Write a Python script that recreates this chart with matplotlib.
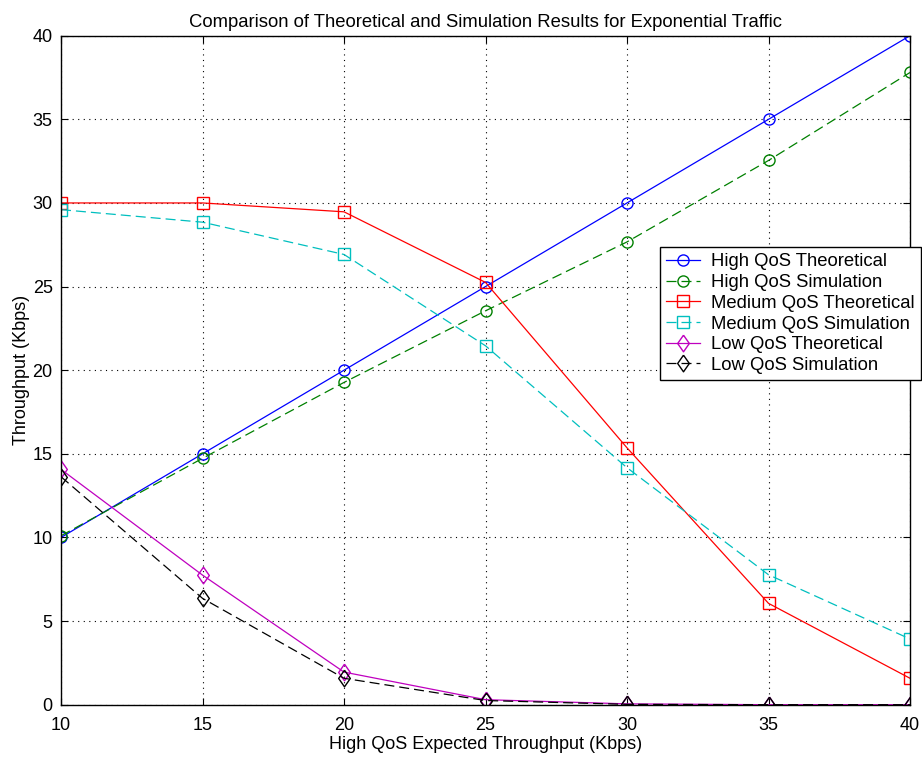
import matplotlib
matplotlib.use("Agg")
import matplotlib.pyplot as plt

plt.rcParams['font.family'] = ['Liberation Sans', 'DejaVu Sans']

# datos
x = [10, 15, 20, 25, 30, 35, 40]
high_teo = [10, 15, 20, 25, 30, 35, 40]
high_sim = [10.1, 14.73, 19.27, 23.55, 27.67, 32.54, 37.8]
med_teo = [30.0, 30.0, 29.47, 25.25, 15.36, 6.06, 1.58]
med_sim = [29.6, 28.85, 26.92, 21.46, 14.17, 7.77, 3.93]
low_teo = [14.07, 7.75, 1.95, 0.3, 0.05, 0.0, 0.0]
low_sim = [13.63, 6.36, 1.58, 0.25, 0.02, 0.0, 0.0]

etiquetas = ["High QoS Theoretical", "High QoS Simulation",
             "Medium QoS Theoretical", "Medium QoS Simulation",
             "Low QoS Theoretical", "Low QoS Simulation"]

# rombo estilo matlab (mas alto que ancho)
rombo = [(0, 1), (0.7, 0), (0, -1), (-0.7, 0), (0, 1)]

fig = plt.figure(figsize=(9.22, 7.59), dpi=100)
ax = fig.add_axes([61/922, 1-704.7/759, (910-61)/922, (704.7-35.7)/759])

lw = 0.9
ms = 8
dash = (8, 4)
ax.plot(x, high_teo, '-', color='b', marker='o', mfc='none', ms=ms, lw=lw, label=etiquetas[0])
ax.plot(x, high_sim, '--', color=(0, 0.5, 0), marker='o', mfc='none', ms=ms, lw=lw, dashes=dash, label=etiquetas[1])
ax.plot(x, med_teo, '-', color='r', marker='s', mfc='none', ms=ms, lw=lw, label=etiquetas[2])
ax.plot(x, med_sim, '--', color=(0, 0.75, 0.75), marker='s', mfc='none', ms=ms, lw=lw, dashes=dash, label=etiquetas[3])
ax.plot(x, low_teo, '-', color=(0.75, 0, 0.75), marker=rombo, mfc='none', ms=12, lw=lw, label=etiquetas[4])
ax.plot(x, low_sim, '--', color='k', marker=rombo, mfc='none', ms=12, lw=lw, dashes=dash, label=etiquetas[5])

ax.set_xlim(10, 40)
ax.set_ylim(0, 40)
ax.set_xticks(x)
ax.set_yticks(range(0, 41, 5))
ax.grid(True, color='k', linestyle=(0, (1, 4)), linewidth=0.8)
ax.tick_params(direction='in', top=True, right=True, length=5, labelsize=13)
ax.tick_params(axis='x', pad=9)
ax.tick_params(axis='y', pad=6)
for s in ax.spines.values():
    s.set_linewidth(1.0)

ax.set_title("Comparison of Theoretical and Simulation Results for Exponential Traffic", fontsize=13.3, pad=6)
ax.set_xlabel("High QoS Expected Throughput (Kbps)", fontsize=13, labelpad=1)
ax.set_ylabel("Throughput (Kbps)", fontsize=13, labelpad=2)

ley = ax.legend(loc='upper left', bbox_to_anchor=(660/922, 1-247/759),
                bbox_transform=fig.transFigure, fontsize=13.3, fancybox=False,
                framealpha=1, edgecolor='k', borderaxespad=0, borderpad=0.35,
                labelspacing=0.2, handlelength=1.8, handletextpad=0.6)
ley.get_frame().set_linewidth(1.0)

plt.savefig("out.png", dpi=100)
